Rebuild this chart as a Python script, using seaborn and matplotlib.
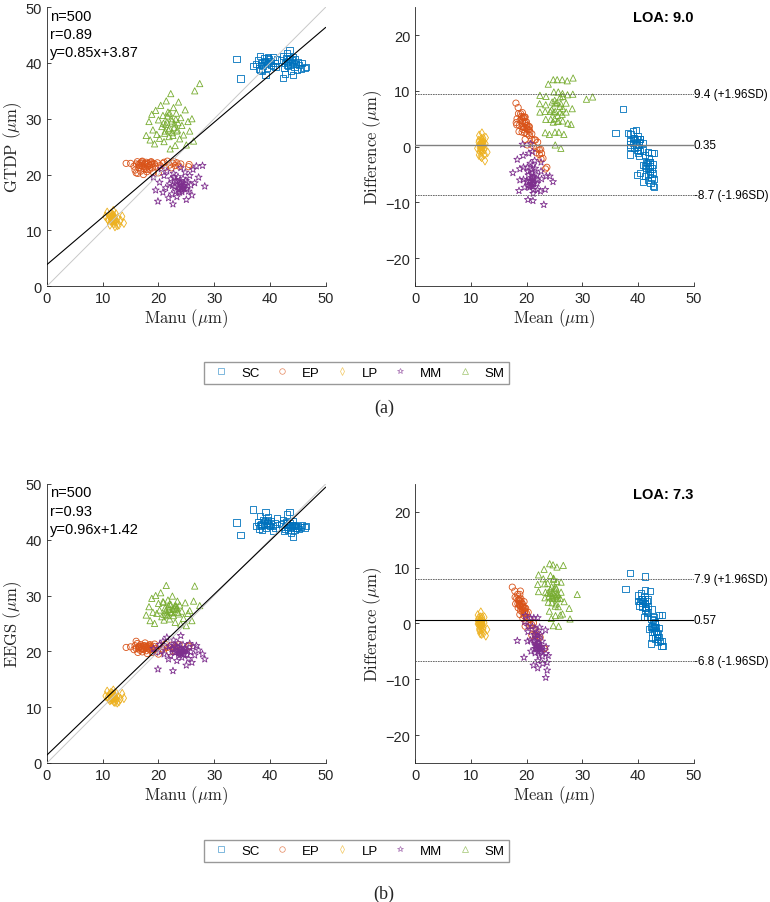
import numpy as np
import pandas as pd
import seaborn as sns
import matplotlib.pyplot as plt
from matplotlib.lines import Line2D

# classes, colours and markers (MATLAB default order)
classes = ['SC', 'EP', 'LP', 'MM', 'SM']
colors = ['#0072BD', '#D95319', '#EDB120', '#7E2F8E', '#77AC30']
markers = ['s', 'o', 'd', '*', '^']

# manual measurements (shared by both comparisons)
manu_sc = [37.5, 37.8, 38.0, 38.2, 38.5, 38.6, 38.8, 39.0, 39.2, 39.3, 39.5, 39.7, 40.0, 40.2, 40.5, 40.8,
           41.0, 41.3, 37.0, 38.3, 42.0, 42.3, 42.5, 42.7, 42.8, 43.0, 43.2, 43.3, 43.5, 43.6, 43.8, 44.0,
           44.2, 44.4, 44.5, 44.8, 45.0, 45.2, 45.5, 45.8, 46.2, 46.5, 44.1, 42.4, 34.0, 34.7,
           38.9, 39.4, 39.8, 40.1, 39.1, 38.4, 43.1, 43.4, 43.7, 43.9, 44.3, 43.0, 42.9, 44.6, 39.6, 40.6]
manu_ep = [14.2, 15.0, 15.6, 15.8, 16.0, 16.2, 16.3, 16.5, 16.7, 16.8, 17.0, 17.1, 17.3, 17.4, 17.6, 17.8,
           17.9, 18.0, 18.2, 18.4, 18.5, 18.7, 18.9, 19.1, 19.3, 19.5, 19.8, 20.3, 20.8, 21.2, 21.6, 22.0,
           22.3, 22.6, 23.0, 23.3, 23.7, 24.0, 25.4, 25.5, 20.0, 16.0,
           16.4, 16.9, 17.2, 17.5, 17.7, 18.1, 18.3, 18.6, 17.0, 16.6, 17.8, 18.8, 19.0, 21.0, 22.8]
manu_lp = [10.5, 10.8, 11.0, 11.2, 11.3, 11.5, 11.6, 11.7, 11.8, 11.9, 12.0, 12.1, 12.2, 12.3, 12.4, 12.5,
           12.7, 12.9, 13.2, 13.5, 13.8, 11.4, 12.0, 11.9, 10.9, 12.6,
           11.5, 11.7, 11.8, 12.0, 11.6, 11.9, 12.1, 11.4, 11.8, 12.2]
manu_mm = [19.1, 19.5, 19.9, 20.2, 20.5, 20.8, 21.0, 21.3, 21.5, 21.8, 22.0, 22.2, 22.4, 22.6, 22.7, 22.9,
           23.1, 23.3, 23.5, 23.6, 23.8, 24.0, 24.1, 24.2, 24.4, 24.6, 24.8, 25.0, 25.2, 25.4, 25.6, 25.8,
           26.0, 26.2, 26.5, 26.8, 27.2, 27.9, 28.3, 24.3, 23.9,
           23.7, 24.0, 24.2, 24.5, 23.4, 23.8, 24.6, 22.8, 23.2, 24.9, 25.1, 22.5]
manu_sm = [17.8, 18.3, 18.5, 18.8, 19.0, 19.3, 19.5, 19.7, 20.0, 20.2, 20.4, 20.6, 20.8, 21.0, 21.2, 21.4,
           21.5, 21.7, 21.9, 22.0, 22.2, 22.3, 22.5, 22.7, 22.9, 23.0, 23.2, 23.4, 23.6, 23.8, 24.0, 24.2,
           24.5, 24.8, 25.0, 25.3, 25.6, 26.0, 26.3, 26.5, 27.4, 22.1,
           21.3, 21.8, 22.4, 22.8, 23.1, 21.6, 22.6, 20.9, 23.5, 22.0, 21.1, 23.3]

# GTDP measurements
gtdp_sc = [39.8, 40.5, 39.0, 41.2, 40.0, 38.5, 39.5, 40.8, 37.8, 40.2, 39.2, 41.0, 40.3, 39.6, 41.1, 40.0,
           39.3, 40.6, 39.5, 38.7, 40.5, 41.3, 39.2, 38.0, 40.0, 41.8, 40.4, 39.5, 42.3, 40.8, 38.6, 40.1,
           41.0, 39.3, 40.6, 38.8, 40.2, 39.6, 39.0, 40.0, 39.1, 39.3, 37.8, 37.3, 40.7, 37.2,
           40.1, 39.8, 40.6, 40.0, 40.4, 39.7, 40.2, 40.7, 39.9, 40.5, 40.0, 39.6, 40.9, 39.8, 40.9, 39.4]
gtdp_ep = [22.0, 22.0, 21.5, 20.8, 21.9, 22.3, 20.2, 21.2, 22.0, 20.6, 21.6, 22.4, 20.0, 21.0, 21.8, 22.2,
           20.5, 21.4, 22.0, 20.9, 21.7, 22.3, 21.2, 20.4, 21.9, 21.5, 22.1, 21.6, 22.0, 21.3, 22.4, 21.7,
           21.2, 22.0, 21.6, 22.1, 21.5, 21.9, 21.4, 21.8, 20.3, 20.3,
           21.8, 22.1, 21.4, 22.0, 21.2, 21.9, 21.6, 22.2, 22.3, 21.6, 20.9, 21.8, 22.0, 22.2, 22.3]
gtdp_lp = [12.5, 13.2, 11.8, 12.6, 11.0, 13.0, 12.2, 11.5, 12.8, 12.0, 11.2, 12.5, 10.7, 11.8, 12.9, 11.5,
           12.2, 11.0, 11.8, 12.5, 11.3, 11.7, 12.2, 13.5, 12.0, 10.9,
           12.1, 12.4, 11.8, 12.3, 11.9, 12.6, 11.7, 12.3, 12.0, 12.1]
gtdp_mm = [19.5, 17.2, 15.2, 18.6, 21.0, 16.8, 19.8, 17.6, 20.6, 15.8, 18.3, 19.2, 16.5, 14.7, 20.2, 17.8,
           18.9, 16.0, 19.6, 17.3, 18.2, 21.2, 18.0, 16.9, 19.3, 17.5, 20.4, 15.5, 18.6, 17.0, 19.8, 18.1,
           16.3, 20.9, 18.5, 21.5, 19.5, 21.6, 17.9, 17.7, 18.6,
           17.6, 18.4, 17.2, 18.0, 18.7, 16.8, 17.9, 19.5, 17.0, 18.9, 17.4, 18.0]
gtdp_sm = [27.0, 29.5, 26.2, 30.8, 28.0, 25.5, 31.5, 27.2, 29.8, 26.5, 32.4, 28.6, 30.6, 25.9, 27.8, 33.2,
           29.4, 31.2, 26.8, 28.3, 34.5, 30.0, 27.5, 32.0, 29.1, 25.2, 31.0, 28.0, 33.0, 26.4, 30.2, 28.8,
           27.1, 31.6, 25.3, 29.5, 27.8, 30.0, 26.0, 35.0, 36.3, 24.6,
           29.0, 28.0, 29.6, 28.4, 29.9, 30.5, 27.0, 29.2, 29.3, 31.0, 27.4, 27.8]

# EEGS measurements
eegs_sc = [42.5, 43.2, 42.0, 44.2, 42.8, 41.8, 43.5, 42.6, 45.0, 42.2, 43.0, 44.0, 42.4, 43.3, 41.6, 42.9,
           42.1, 43.8, 45.4, 42.7, 42.8, 43.5, 41.5, 42.0, 42.3, 44.5, 42.6, 41.8, 45.0, 42.9, 41.2, 42.4,
           43.4, 41.7, 42.7, 42.1, 42.5, 41.9, 42.3, 42.6, 42.2, 42.4, 40.5, 43.0, 43.1, 40.8,
           42.9, 43.1, 42.6, 42.8, 43.4, 42.4, 42.3, 42.7, 42.1, 42.6, 42.4, 42.9, 43.2, 42.2, 43.6, 42.5]
eegs_ep = [20.7, 20.8, 20.3, 21.0, 20.5, 21.4, 19.8, 20.9, 20.2, 21.2, 20.6, 19.9, 21.0, 20.4, 21.5, 20.1,
           20.8, 19.6, 20.9, 20.3, 21.2, 20.6, 19.8, 20.9, 21.3, 20.5, 20.0, 21.0, 20.4, 21.3, 20.7, 19.9,
           21.1, 20.5, 20.0, 20.8, 21.2, 20.3, 20.9, 21.0, 19.5, 21.8,
           20.6, 20.9, 20.4, 21.0, 20.7, 20.5, 21.1, 20.8, 20.4, 20.7, 20.9, 20.6, 20.3, 20.8, 20.6]
eegs_lp = [12.0, 12.8, 11.5, 12.3, 11.2, 12.6, 11.9, 11.3, 12.4, 11.7, 11.0, 12.1, 10.9, 11.6, 12.5, 11.3,
           11.8, 11.0, 11.5, 12.4, 11.6, 11.4, 12.0, 13.0, 11.8, 10.8,
           11.8, 12.0, 11.6, 11.9, 11.5, 12.2, 11.7, 11.9, 11.6, 12.0]
eegs_mm = [20.5, 19.8, 16.8, 21.2, 20.0, 21.8, 19.5, 20.8, 22.5, 18.6, 21.0, 19.2, 20.4, 16.5, 22.0, 19.8,
           20.9, 18.3, 21.5, 19.6, 20.3, 22.8, 20.0, 18.9, 21.2, 19.5, 20.6, 17.5, 20.2, 18.7, 21.4, 19.9,
           18.0, 20.8, 19.3, 21.0, 20.2, 19.5, 18.6, 20.1, 19.7,
           19.8, 20.4, 19.6, 20.1, 20.6, 19.3, 20.0, 21.1, 19.9, 20.3, 19.4, 20.5]
eegs_sm = [26.5, 28.0, 25.5, 29.5, 27.0, 25.0, 30.0, 26.8, 28.6, 27.4, 30.5, 26.2, 28.9, 25.6, 27.8, 31.8,
           26.9, 29.2, 27.5, 25.8, 28.4, 27.0, 29.9, 26.4, 28.1, 25.2, 27.6, 29.0, 26.7, 28.3, 24.9, 27.2,
           25.9, 28.7, 24.6, 26.8, 27.3, 25.5, 29.0, 31.7, 28.2, 27.1,
           27.3, 28.1, 26.9, 27.7, 28.2, 26.4, 27.5, 28.8, 27.0, 28.5, 26.6, 27.9]

# reported statistics
n_total = 500
stats_gtdp = dict(r=0.89, slope=0.85, icpt=3.87, bias=0.35, upper=9.4, lower=-8.7, loa=9.0)
stats_eegs = dict(r=0.93, slope=0.96, icpt=1.42, bias=0.57, upper=7.9, lower=-6.8, loa=7.3)


def make_df(manu, other):
    rows = []
    for cls, xs, ys in zip(classes, manu, other):
        for x, y in zip(xs, ys):
            rows.append((cls, x, y))
    df = pd.DataFrame(rows, columns=['cls', 'manu', 'auto'])
    df['mean'] = (df['manu'] + df['auto']) / 2
    df['diff'] = df['auto'] - df['manu']
    return df


manu_all = [manu_sc, manu_ep, manu_lp, manu_mm, manu_sm]
df_gtdp = make_df(manu_all, [gtdp_sc, gtdp_ep, gtdp_lp, gtdp_mm, gtdp_sm])
df_eegs = make_df(manu_all, [eegs_sc, eegs_ep, eegs_lp, eegs_mm, eegs_sm])

sns.set_style('white')
plt.rcParams['font.family'] = ['Liberation Sans', 'DejaVu Sans']
plt.rcParams['mathtext.fontset'] = 'cm'
plt.rcParams['xtick.direction'] = 'in'
plt.rcParams['ytick.direction'] = 'in'

axis_grey = '#262626'


def style_axes(ax):
    sns.despine(ax=ax)
    for s in ['left', 'bottom']:
        ax.spines[s].set_color(axis_grey)
        ax.spines[s].set_linewidth(0.6)
    ax.tick_params(axis='both', labelsize=10.5, colors=axis_grey, length=3, width=0.6,
                   bottom=True, left=True)


def draw_points(ax, df, x, y):
    for cls, c, m in zip(classes, colors, markers):
        sub = df[df['cls'] == cls]
        sns.scatterplot(x=sub[x], y=sub[y], ax=ax, marker=m, color=c, facecolors='none',
                        edgecolor=c, linewidth=0.6, s=20 if m != '*' else 28, legend=False)


def corr_panel(ax, df, st, ylabel):
    draw_points(ax, df, 'manu', 'auto')
    ax.plot([0, 50], [0, 50], color='#c8c8c8', lw=0.7, zorder=3)
    ax.plot([0, 50], [st['icpt'], st['icpt'] + st['slope'] * 50], color='black', lw=0.8, zorder=3)
    ax.set_xlim(0, 50)
    ax.set_ylim(0, 50)
    ax.set_xticks(range(0, 51, 10))
    ax.set_yticks(range(0, 51, 10))
    ax.set_xlabel(r'$\mathrm{Manu}\ (\mu\mathrm{m})$', fontsize=12, color=axis_grey, labelpad=1)
    ax.set_ylabel(ylabel, fontsize=12, color=axis_grey, labelpad=1)
    ax.text(0.01, 0.995, f"n={n_total}\nr={st['r']:.2f}\ny={st['slope']:.2f}x+{st['icpt']:.2f}",
            transform=ax.transAxes, ha='left', va='top', fontsize=10.5, linespacing=1.4,
            color='black')
    style_axes(ax)


def ba_panel(ax, df, st, bias_color):
    draw_points(ax, df, 'mean', 'diff')
    ax.axhline(st['bias'], color=bias_color, lw=1.0 if bias_color != 'black' else 0.8, zorder=3)
    ax.axhline(st['upper'], color='#555555', lw=0.6, ls=(0, (2, 1)), zorder=3)
    ax.axhline(st['lower'], color='#555555', lw=0.6, ls=(0, (2, 1)), zorder=3)
    ax.set_xlim(0, 50)
    ax.set_ylim(-25, 25)
    ax.set_xticks(range(0, 51, 10))
    ax.set_yticks(range(-20, 21, 10))
    ax.set_xlabel(r'$\mathrm{Mean}\ (\mu\mathrm{m})$', fontsize=12, color=axis_grey, labelpad=1)
    ax.set_ylabel(r'$\mathrm{Difference}\ (\mu\mathrm{m})$', fontsize=12, color=axis_grey, labelpad=1)
    tr = ax.get_yaxis_transform()
    ax.text(1.0, st['upper'], f"{st['upper']:.1f} (+1.96SD)", transform=tr, fontsize=8.5,
            va='center', color='black')
    ax.text(1.0, st['bias'], f"{st['bias']:.2f}", transform=tr, fontsize=8.5, va='center', color='black')
    ax.text(1.0, st['lower'], f"{st['lower']:.1f} (-1.96SD)", transform=tr, fontsize=8.5,
            va='center', color='black')
    ax.text(1.0, 0.965, f"LOA: {st['loa']:.1f}", transform=ax.transAxes, ha='right', va='center',
            fontsize=10.5, fontweight='bold', color='black')
    style_axes(ax)


fig = plt.figure(figsize=(7.7, 9.03), dpi=100)
w, h = 0.362, 0.309
ax1 = fig.add_axes([0.061, 0.682, w, h])
ax2 = fig.add_axes([0.539, 0.682, w, h])
ax3 = fig.add_axes([0.061, 0.154, w, h])
ax4 = fig.add_axes([0.539, 0.154, w, h])

corr_panel(ax1, df_gtdp, stats_gtdp, r'$\mathrm{GTDP}\ (\mu\mathrm{m})$')
ba_panel(ax2, df_gtdp, stats_gtdp, '#808080')
corr_panel(ax3, df_eegs, stats_eegs, r'$\mathrm{EEGS}\ (\mu\mathrm{m})$')
ba_panel(ax4, df_eegs, stats_eegs, 'black')

handles = [Line2D([], [], ls='none', marker=m, mfc='none', mec=c, mew=0.5, ms=4, alpha=0.7)
           for c, m in zip(colors, markers)]
for yc in [0.586, 0.0565]:
    leg = fig.legend(handles, classes, loc='center', bbox_to_anchor=(0.463, yc), ncol=5, fontsize=9.5,
                     frameon=True, fancybox=False, edgecolor='#808080', handlelength=2.0,
                     handletextpad=0.5, columnspacing=0.7, borderpad=0.35)
    for t in leg.get_texts():
        t.set_color('black')

fig.text(0.499, 0.548, '(a)', ha='center', va='center', fontsize=13, family='Liberation Serif')
fig.text(0.499, 0.0095, '(b)', ha='center', va='center', fontsize=13, family='Liberation Serif')

fig.savefig('out.png', dpi=100)
